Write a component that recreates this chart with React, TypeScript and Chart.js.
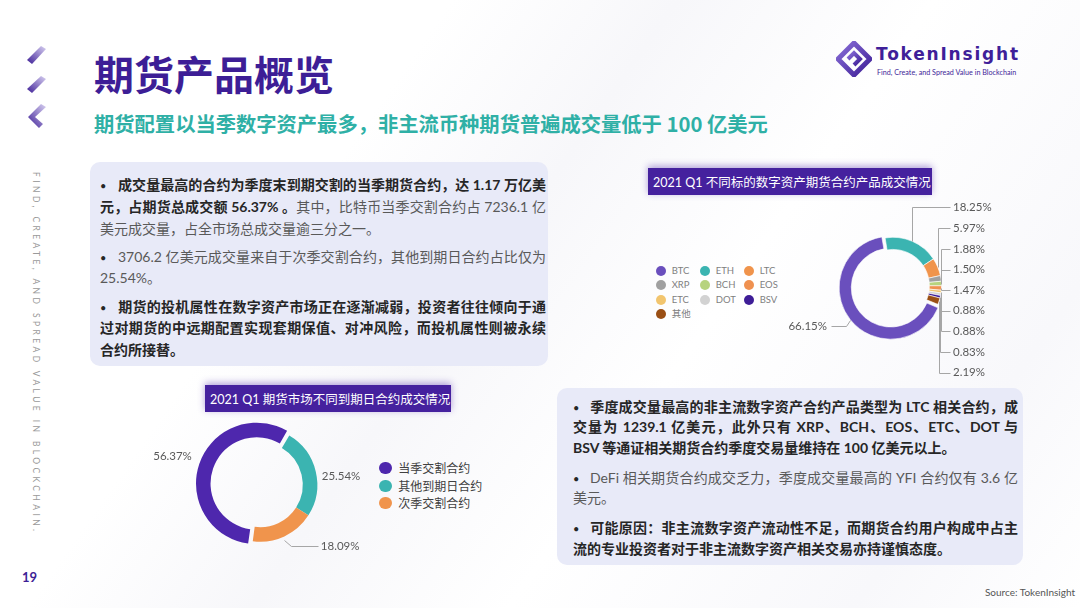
import React, { useEffect, useRef } from 'react';
import { Chart, registerables } from 'chart.js';

Chart.register(...registerables);

// ---------- data ----------
const assetLabels = ['BTC', 'ETH', 'LTC', 'XRP', 'BCH', 'EOS', 'ETC', 'DOT', 'BSV', '其他'];
const assetShares = [66.15, 18.25, 5.97, 1.88, 1.5, 1.47, 0.88, 0.88, 0.83, 2.19];
const assetColors = ['#6a4fbd', '#3bb4b1', '#f0944c', '#a0a0a0', '#b7d37e', '#ef9150', '#f2c56e', '#d2d2d2', '#3e1d97', '#9a4f14'];

const expiryLabels = ['当季交割合约', '其他到期日合约', '次季交割合约'];
const expiryShares = [56.37, 25.54, 18.09];
const expiryColors = ['#4e27ad', '#3bb4b1', '#f0944c'];

const PURPLE = '#3d1e96';
const SANS = "Lato, 'Noto Sans CJK SC', sans-serif";
const CJK = "'Noto Sans CJK SC', sans-serif";

type Seg = [string, boolean];

const box1Paras: Seg[][][] = [
  [
    [['成交量最高的合约为季度末到期交割的当季期货合约，达 1.17 万亿美', true]],
    [['元，占期货总成交额 56.37% 。', true], ['其中，比特币当季交割合约占 7236.1 亿', false]],
    [['美元成交量，占全市场总成交量逾三分之一。', false]],
  ],
  [
    [['3706.2 亿美元成交量来自于次季交割合约，其他到期日合约占比仅为', false]],
    [['25.54%。', false]],
  ],
  [
    [['期货的投机属性在数字资产市场正在逐渐减弱，投资者往往倾向于通', true]],
    [['过对期货的中远期配置实现套期保值、对冲风险，而投机属性则被永续', true]],
    [['合约所接替。', true]],
  ],
];

const box2Paras: Seg[][][] = [
  [
    [['季度成交量最高的非主流数字资产合约产品类型为 LTC 相关合约，成', true]],
    [['交量为 1239.1 亿美元，此外只有 XRP、BCH、EOS、ETC、DOT 与', true]],
    [['BSV 等通证相关期货合约季度交易量维持在 100 亿美元以上。', true]],
  ],
  [
    [['DeFi 相关期货合约成交乏力，季度成交量最高的 YFI 合约仅有 3.6 亿', false]],
    [['美元。', false]],
  ],
  [
    [['可能原因：非主流数字资产流动性不足，而期货合约用户构成中占主', true]],
    [['流的专业投资者对于非主流数字资产相关交易亦持谨慎态度。', true]],
  ],
];

// ---------- label plugin ----------
type Anchor = { cx: number; cy: number; r: number; ax: number; ay: number; mid: number };
type Placement = { tx: number; ty: number; align: 'left' | 'right'; path: [number, number][] };

function makeLabelPlugin(place: (i: number, a: Anchor) => Placement) {
  return {
    id: 'sliceLabels',
    afterDatasetsDraw(chart: any) {
      const meta = chart.getDatasetMeta(0);
      const ds = chart.data.datasets[0];
      const ctx = chart.ctx;
      ctx.save();
      ctx.font = '11.5px Lato, "Noto Sans CJK SC", sans-serif';
      ctx.textBaseline = 'middle';
      ctx.fillStyle = '#595959';
      ctx.strokeStyle = '#a6a6a6';
      ctx.lineWidth = 1;
      meta.data.forEach((arc: any, i: number) => {
        const mid = (arc.startAngle + arc.endAngle) / 2;
        const off = (arc.options.offset || 0) / 4;
        const fix = 1 - Math.sin(Math.min(Math.PI, arc.circumference || 0));
        const shift = off + off * fix;
        const r = arc.outerRadius;
        const a: Anchor = {
          cx: arc.x,
          cy: arc.y,
          r,
          mid,
          ax: arc.x + Math.cos(mid) * (r + shift),
          ay: arc.y + Math.sin(mid) * (r + shift),
        };
        const p = place(i, a);
        if (p.path.length) {
          ctx.beginPath();
          p.path.forEach(([x, y], k) => {
            const px = Math.round(x) + 0.5;
            const py = Math.round(y) + 0.5;
            if (k === 0) ctx.moveTo(px, py);
            else ctx.lineTo(px, py);
          });
          ctx.stroke();
        }
        ctx.textAlign = p.align;
        ctx.fillText(Number(ds.data[i]).toFixed(2) + '%', p.tx, p.ty);
      });
      ctx.restore();
    },
  };
}

const assetLabelPlugin = makeLabelPlugin((i, a) => {
  const lx = a.cx + a.r + 11.5;
  if (i === 0) {
    const ly = a.cy + 40;
    const tx = a.cx - a.r - 17.5;
    return { tx, ty: ly, align: 'right', path: [[a.ax, a.ay], [a.ax - 4, ly], [tx + 4, ly]] };
  }
  const ly = i === 1 ? a.cy - a.r - 30 : a.cy - a.r - 9 + (i - 2) * 20.6;
  return { tx: lx, ty: ly, align: 'left', path: [[a.ax, a.ay], [a.ax, ly], [lx - 3, ly]] };
});

const expiryLabelPlugin = makeLabelPlugin((i, a) => {
  if (i === 0) return { tx: a.ax - 7.5, ty: a.ay - 7.5, align: 'right', path: [] };
  if (i === 1) return { tx: a.ax + 6, ty: a.ay + 4.5, align: 'left', path: [] };
  const ly = a.ay + 9.5;
  return { tx: a.ax + 36.5, ty: ly, align: 'left', path: [[a.ax, a.ay + 4], [a.ax + 7, ly], [a.ax + 34, ly]] };
});

// ---------- donut component ----------
type DonutProps = {
  labels: string[];
  values: number[];
  colors: string[];
  offsets: number[];
  rotation: number;
  radius: number;
  cutout: string;
  borderWidth: number;
  padding: { left: number; right: number; top: number; bottom: number };
  plugin: any;
  left: number;
  top: number;
  width: number;
  height: number;
};

function Donut(p: DonutProps) {
  const ref = useRef<HTMLCanvasElement | null>(null);
  useEffect(() => {
    if (!ref.current) return;
    const chart = new Chart(ref.current, {
      type: 'doughnut',
      data: {
        labels: p.labels,
        datasets: [
          {
            data: p.values,
            backgroundColor: p.colors,
            borderColor: '#ffffff',
            borderWidth: p.borderWidth,
            offset: p.offsets,
            hoverOffset: 0,
          } as any,
        ],
      },
      options: {
        responsive: false,
        animation: false,
        rotation: p.rotation,
        radius: p.radius,
        cutout: p.cutout,
        layout: { padding: p.padding },
        plugins: { legend: { display: false }, tooltip: { enabled: false } },
        events: [],
      } as any,
      plugins: [p.plugin],
    });
    return () => chart.destroy();
  }, []);
  return (
    <canvas
      ref={ref}
      width={p.width}
      height={p.height}
      style={{ position: 'absolute', left: p.left, top: p.top, width: p.width, height: p.height }}
    />
  );
}

// ---------- text helpers ----------
function TextBlock({ paras, left, top, width, lh, gap, bulletW }: { paras: Seg[][][]; left: number; top: number; width: number; lh: number; gap: number; bulletW: number }) {
  return (
    <div style={{ position: 'absolute', left, top, width, fontFamily: SANS, fontSize: 14 }}>
      {paras.map((lines, pi) => (
        <div key={pi} style={{ marginTop: pi === 0 ? 0 : gap }}>
          {lines.map((segs, li) => (
            <div
              key={li}
              style={{
                height: lh,
                lineHeight: lh + 'px',
                whiteSpace: 'nowrap',
                textAlign: 'justify',
                textAlignLast: li < lines.length - 1 ? 'justify' : 'left',
              } as any}
            >
              {li === 0 && (
                <span style={{ display: 'inline-block', width: bulletW, fontSize: 11, color: '#262626' }}>•</span>
              )}
              {segs.map(([t, b], si) => (
                <span key={si} style={{ fontWeight: b ? 700 : 400, color: b ? '#262626' : '#595959' }}>
                  {t}
                </span>
              ))}
            </div>
          ))}
        </div>
      ))}
    </div>
  );
}

function ChartTitle({ text, left, top, width, height }: { text: string; left: number; top: number; width: number; height: number }) {
  return (
    <div
      style={{
        position: 'absolute',
        left,
        top,
        width,
        height,
        background: '#45219e',
        boxShadow: '0 -2px 7px rgba(80, 45, 170, 0.45)',
        color: '#ffffff',
        fontFamily: SANS,
        fontSize: 12.5,
        display: 'flex',
        alignItems: 'center',
        paddingLeft: 5,
        boxSizing: 'border-box',
        whiteSpace: 'nowrap',
      }}
    >
      {text}
    </div>
  );
}

export default function App() {
  return (
    <div
      style={{
        position: 'fixed',
        left: 0,
        top: 0,
        width: 1080,
        height: 608,
        overflow: 'hidden',
        background: '#ffffff',
        fontFamily: SANS,
      }}
    >
      {/* faint background shading */}
      <div
        style={{
          position: 'absolute',
          left: 0,
          top: 0,
          width: 1080,
          height: 608,
          background: 'linear-gradient(125deg, #ffffff 0%, #ffffff 30%, #f7f7fa 45%, #ffffff 62%, #f8f8fb 85%, #ffffff 100%)',
        }}
      />

      {/* left decorations */}
      <svg style={{ position: 'absolute', left: 0, top: 0 }} width={60} height={140}>
        <defs>
          <linearGradient id="chev" x1="0" y1="1" x2="1" y2="0">
            <stop offset="0" stopColor="#3d1e96" />
            <stop offset="1" stopColor="#d9d2f2" />
          </linearGradient>
        </defs>
        <polygon points="27,60 41,46 46,49 32,64" fill="url(#chev)" />
        <polygon points="27,89 41,76 46,79 32,93" fill="url(#chev)" />
        <polygon points="28,117 41,104 46,107 35,117 43,124 39,128" fill="url(#chev)" />
      </svg>

      {/* title */}
      <div
        style={{
          position: 'absolute',
          left: 94,
          top: 53.3,
          fontFamily: CJK,
          fontWeight: 700,
          fontSize: 40,
          lineHeight: '40px',
          color: PURPLE,
          whiteSpace: 'nowrap',
        }}
      >
        期货产品概览
      </div>
      <div
        style={{
          position: 'absolute',
          left: 94,
          top: 113.2,
          fontFamily: CJK,
          fontWeight: 700,
          fontSize: 20.3,
          lineHeight: '20.3px',
          color: '#2fb0a6',
          whiteSpace: 'nowrap',
        }}
      >
        期货配置以当季数字资产最多，非主流币种期货普遍成交量低于 100 亿美元
      </div>

      {/* logo */}
      <svg style={{ position: 'absolute', left: 836, top: 41 }} width={36} height={36} viewBox="0 0 36 36">
        <defs>
          <linearGradient id="logoG" x1="0" y1="0" x2="1" y2="1">
            <stop offset="0" stopColor="#8a6fd8" />
            <stop offset="1" stopColor="#3d1e96" />
          </linearGradient>
        </defs>
        <polygon points="18,2 34,18 18,34 2,18" fill="none" stroke="url(#logoG)" strokeWidth={5} strokeLinejoin="miter" />
        <polyline points="12,18 18,12 24,18 18,24" fill="none" stroke="url(#logoG)" strokeWidth={4} />
      </svg>
      <div
        style={{
          position: 'absolute',
          left: 876,
          top: 43,
          fontFamily: "'DejaVu Sans', sans-serif",
          fontWeight: 700,
          fontSize: 17,
          lineHeight: '22px',
          letterSpacing: 1.8,
          color: '#3f1f99',
          whiteSpace: 'nowrap',
        }}
      >
        TokenInsight
      </div>
      <div
        style={{
          position: 'absolute',
          left: 877,
          top: 68.5,
          fontFamily: SANS,
          fontSize: 7.2,
          lineHeight: '8px',
          color: '#3f1f99',
          whiteSpace: 'nowrap',
        }}
      >
        Find, Create, and Spread Value in Blockchain
      </div>

      {/* vertical slogan */}
      <div
        style={{
          position: 'absolute',
          left: 31,
          top: 172,
          writingMode: 'vertical-rl',
          fontFamily: SANS,
          fontSize: 8.5,
          letterSpacing: 3.4,
          color: '#9a9a9a',
          whiteSpace: 'nowrap',
        } as any}
      >
        FIND, CREATE, AND SPREAD VALUE IN BLOCKCHAIN.
      </div>

      {/* page number & source */}
      <div style={{ position: 'absolute', left: 22, top: 569, fontSize: 13, fontWeight: 700, color: PURPLE, fontFamily: SANS }}>19</div>
      <div style={{ position: 'absolute', right: 5, top: 586, fontSize: 10, color: '#555555', fontFamily: SANS, whiteSpace: 'nowrap' }}>
        Source: TokenInsight
      </div>

      {/* text box 1 */}
      <div style={{ position: 'absolute', left: 90, top: 162, width: 458, height: 204, background: '#e8eaf8', borderRadius: 10 }} />
      <TextBlock paras={box1Paras} left={100} top={174.2} width={446} lh={21.7} gap={6.5} bulletW={18} />

      {/* text box 2 */}
      <div style={{ position: 'absolute', left: 557, top: 388, width: 466, height: 177, background: '#e8eaf8', borderRadius: 10 }} />
      <TextBlock paras={box2Paras} left={573} top={396.5} width={445} lh={20.5} gap={9.5} bulletW={17} />

      {/* chart titles */}
      <ChartTitle text="2021 Q1 不同标的数字资产期货合约产品成交情况" left={648} top={168.3} width={284} height={26.7} />
      <ChartTitle text="2021 Q1 期货市场不同到期日合约成交情况" left={205} top={385} width={246} height={27.3} />

      {/* legend top-right */}
      {assetLabels.map((lab, i) => {
        const col = i % 3;
        const row = Math.floor(i / 3);
        const cx = 660.7 + col * 44;
        const cy = 271 + row * 14.4;
        return (
          <React.Fragment key={lab}>
            <div style={{ position: 'absolute', left: cx - 5, top: cy - 5, width: 10, height: 10, borderRadius: '50%', background: assetColors[i] }} />
            <div style={{ position: 'absolute', left: cx + 11, top: cy - 7, height: 14, lineHeight: '14px', fontSize: 9.5, color: '#7f7f7f', fontFamily: SANS, whiteSpace: 'nowrap' }}>
              {lab}
            </div>
          </React.Fragment>
        );
      })}

      {/* legend bottom-left */}
      {expiryLabels.map((lab, i) => {
        const cx = 385.5;
        const cy = 468.3 + i * 17.5;
        return (
          <React.Fragment key={lab}>
            <div style={{ position: 'absolute', left: cx - 6.2, top: cy - 6.2, width: 12.4, height: 12.4, borderRadius: '50%', background: expiryColors[i] }} />
            <div style={{ position: 'absolute', left: 398.3, top: cy - 9, height: 18, lineHeight: '18px', fontSize: 12, color: '#404040', fontFamily: CJK, whiteSpace: 'nowrap' }}>
              {lab}
            </div>
          </React.Fragment>
        );
      })}

      {/* charts */}
      <Donut
        labels={assetLabels}
        values={assetShares}
        colors={assetColors}
        offsets={[12, 0, 0, 0, 0, 0, 0, 0, 0, 0]}
        rotation={112.5}
        radius={48.5}
        cutout="75%"
        borderWidth={0.6}
        padding={{ left: 63, right: 137, top: 39.8, bottom: 50.2 }}
        plugin={assetLabelPlugin}
        left={780}
        top={196}
        width={300}
        height={190}
      />
      <Donut
        labels={expiryLabels}
        values={expiryShares}
        colors={expiryColors}
        offsets={[15, 0, 0]}
        rotation={187.6}
        radius={57}
        cutout="74.5%"
        borderWidth={0}
        padding={{ left: 70.3, right: 89.7, top: 19.7, bottom: 30.3 }}
        plugin={expiryLabelPlugin}
        left={140}
        top={415}
        width={260}
        height={150}
      />
    </div>
  );
}
